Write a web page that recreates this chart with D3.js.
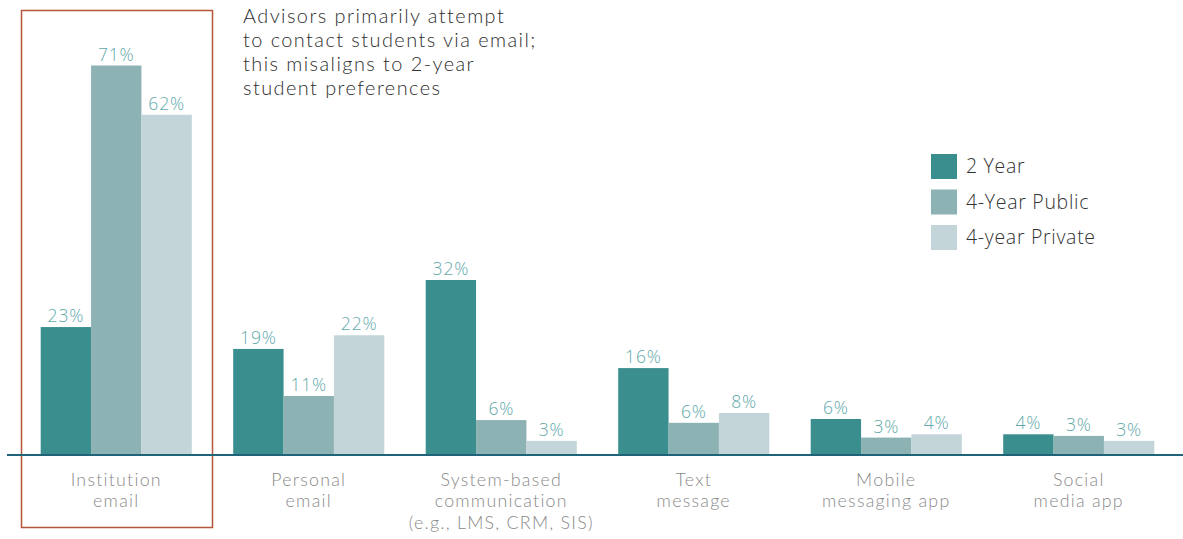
<!DOCTYPE html>
<html>
<head>
<meta charset="utf-8">
<script src="https://cdn.jsdelivr.net/npm/d3@7"></script>
<style>
  html, body { margin: 0; padding: 0; background: #fff; }
  svg { display: block; }
  text { font-family: "Open Sans", "Lato", sans-serif; }
  text.lato { font-family: "Lato", "Open Sans", sans-serif; }
</style>
</head>
<body>
<svg id="chart" width="1183" height="539"></svg>
<script>
// ---- Data ----
const categories = [
  ["Institution", "email"],
  ["Personal", "email"],
  ["System-based", "communication", "(e.g., LMS, CRM, SIS)"],
  ["Text", "message"],
  ["Mobile", "messaging app"],
  ["Social", "media app"]
];
const seriesNames = ["2 Year", "4-Year Public", "4-year Private"];
const twoYear     = [23.2, 19.2, 31.8, 15.7, 6.4, 3.6];
const fourPublic  = [71,   10.6, 6.2,  5.7,  3.0, 3.3];
const fourPrivate = [62,   21.7, 2.4,  7.5,  3.6, 2.4];
const twoYearLabels     = ["23%", "19%", "32%", "16%", "6%", "4%"];
const fourPublicLabels  = ["71%", "11%", "6%", "6%", "3%", "3%"];
const fourPrivateLabels = ["62%", "22%", "3%", "8%", "4%", "3%"];
const annotation = [
  "Advisors primarily attempt",
  "to contact students via email;",
  "this misaligns to 2-year",
  "student preferences"
];

const seriesValues = [twoYear, fourPublic, fourPrivate];
const seriesLabels = [twoYearLabels, fourPublicLabels, fourPrivateLabels];
const colors = ["#3b8e8e", "#8db2b4", "#c3d5d8"];

const svg = d3.select("#chart");
const baseline = 454;

const x0 = d3.scaleBand()
  .domain(d3.range(categories.length))
  .range([20, 1175])
  .paddingInner(0.215)
  .paddingOuter(0.1075);
const x1 = d3.scaleBand()
  .domain(d3.range(seriesNames.length))
  .range([0, x0.bandwidth()]);
const y = d3.scaleLinear().domain([0, 71]).range([baseline, 65.5]);

// highlight box
svg.append("rect")
  .attr("x", 21.5).attr("y", 10.5)
  .attr("width", 191).attr("height", 517)
  .attr("fill", "none")
  .attr("stroke", "#b3553b")
  .attr("stroke-width", 1.5);

// bars
const groups = svg.append("g").selectAll("g")
  .data(categories)
  .join("g")
  .attr("transform", (d, i) => `translate(${x0(i)},0)`);

groups.each(function(cat, ci) {
  const g = d3.select(this);
  seriesValues.forEach((vals, si) => {
    g.append("rect")
      .attr("x", x1(si))
      .attr("y", y(vals[ci]))
      .attr("width", x1.bandwidth())
      .attr("height", baseline - y(vals[ci]))
      .attr("fill", colors[si]);
    g.append("text")
      .attr("x", x1(si) + x1.bandwidth() / 2)
      .attr("y", y(vals[ci]) - 5)
      .attr("text-anchor", "middle")
      .attr("font-size", 17.5)
      .attr("font-weight", 300)
      .attr("letter-spacing", 0.8)
      .attr("fill", "#62a9aa")
      .text(seriesLabels[si][ci]);
  });
  // category label, one text per line
  cat.forEach((line, li) => {
    g.append("text")
      .attr("class", "lato")
      .attr("x", x0.bandwidth() / 2)
      .attr("y", 485.5 + li * 21.5)
      .attr("text-anchor", "middle")
      .attr("font-size", 17.8)
      .attr("font-weight", 300)
      .attr("letter-spacing", 1.25)
      .attr("fill", "#8a8a8a")
      .text(line);
  });
});

// axis line
svg.append("line")
  .attr("x1", 7).attr("x2", 1183)
  .attr("y1", baseline + 1).attr("y2", baseline + 1)
  .attr("stroke", "#1f6479")
  .attr("stroke-width", 2.2);

// annotation
annotation.forEach((line, i) => {
  svg.append("text")
    .attr("class", "lato")
    .attr("x", 243).attr("y", 23 + i * 24)
    .attr("font-size", 19.9)
    .attr("font-weight", 300)
    .attr("letter-spacing", 1.45)
    .attr("fill", "#2e2e2e")
    .text(line);
});

// legend
const legend = svg.append("g").attr("transform", "translate(931,154)");
seriesNames.forEach((name, i) => {
  legend.append("rect")
    .attr("x", 0).attr("y", i * 35.5)
    .attr("width", 26).attr("height", 25)
    .attr("fill", colors[i]);
  legend.append("text")
    .attr("x", 35).attr("y", i * 35.5 + 19.3)
    .attr("font-size", 19.5)
    .attr("font-weight", 300)
    .attr("letter-spacing", 0.7)
    .attr("fill", "#333")
    .text(name);
});
</script>
</body>
</html>
